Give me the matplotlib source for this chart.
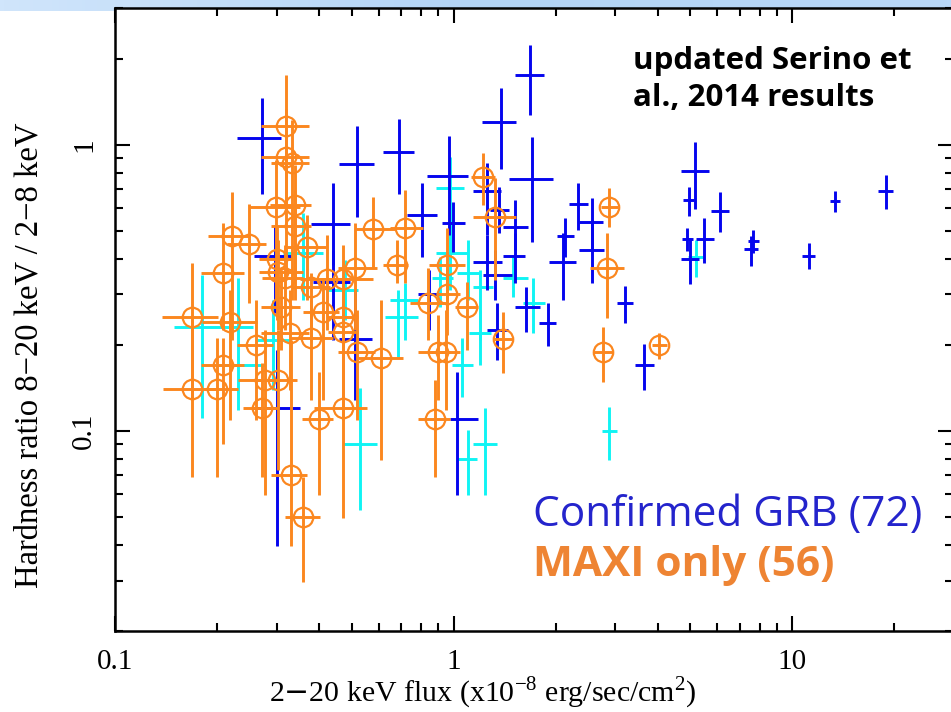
import numpy as np
import matplotlib
matplotlib.use("Agg")
import matplotlib.pyplot as plt
from matplotlib.ticker import FixedLocator, FixedFormatter, LogLocator, NullFormatter
from matplotlib.colors import LinearSegmentedColormap

# ---- Confirmed GRBs (blue) ----
grb_flux = [0.271, 0.517, 0.688, 0.439, 0.300, 0.296, 0.510, 0.439, 1.377, 1.677,
            1.700, 0.967, 0.804, 0.993, 1.252, 1.358, 1.514, 1.514, 1.252, 1.322,
            1.632, 1.340, 1.021, 2.325, 2.556, 2.556, 2.126, 2.098, 1.894, 3.20,
            3.64, 5.16, 4.95, 6.11, 5.48, 4.88, 4.98, 7.66, 7.56, 11.2,
            13.4, 18.9, 0.844]
grb_flux_lo = [0.229, 0.460, 0.617, 0.378, 0.258, 0.258, 0.457, 0.385, 1.210, 1.514,
               1.454, 0.832, 0.727, 0.922, 1.138, 1.278, 1.396, 1.396, 1.138, 1.218,
               1.514, 1.252, 0.973, 2.185, 2.341, 2.341, 2.014, 1.907, 1.782, 3.03,
               3.42, 4.69, 4.75, 5.75, 5.19, 4.72, 4.69, 7.39, 7.18, 10.7,
               12.9, 17.9, 0.783]
grb_flux_hi = [0.310, 0.580, 0.762, 0.493, 0.351, 0.334, 0.573, 0.493, 1.525, 1.844,
               1.959, 1.100, 0.891, 1.078, 1.377, 1.454, 1.654, 1.621, 1.386, 1.484,
               1.794, 1.444, 1.178, 2.488, 2.753, 2.772, 2.262, 2.293, 2.000, 3.38,
               3.89, 5.67, 5.12, 6.49, 5.87, 5.09, 5.30, 7.99, 7.93, 11.7,
               13.8, 19.8, 0.909]
grb_hr = [1.06, 0.858, 0.945, 0.530, 0.120, 0.409, 0.210, 0.332, 1.20, 1.76,
          0.760, 0.779, 0.569, 0.534, 0.690, 0.593, 0.517, 0.409, 0.390, 0.351,
          0.272, 0.2255, 0.110, 0.622, 0.538, 0.430, 0.480, 0.390, 0.238, 0.280,
          0.170, 0.811, 0.642, 0.588, 0.469, 0.469, 0.400, 0.462, 0.433, 0.409,
          0.637, 0.690, 0.301]
grb_hr_lo = [0.674, 0.560, 0.674, 0.380, 0.0396, 0.259, 0.128, 0.208, 0.824, 1.27,
             0.458, 0.484, 0.406, 0.423, 0.484, 0.493, 0.430, 0.329, 0.311, 0.287,
             0.222, 0.177, 0.0597, 0.505, 0.430, 0.329, 0.406, 0.287, 0.198, 0.238,
             0.139, 0.597, 0.564, 0.497, 0.387, 0.426, 0.327, 0.419, 0.377, 0.368,
             0.583, 0.597, 0.2255]
grb_hr_hi = [1.46, 1.165, 1.23, 0.736, 0.192, 0.526, 0.311, 0.430, 1.58, 2.24,
             1.066, 1.075, 0.736, 0.632, 0.865, 0.713, 0.642, 0.493, 0.484, 0.430,
             0.319, 0.280, 0.161, 0.736, 0.653, 0.547, 0.555, 0.493, 0.280, 0.321,
             0.202, 1.024, 0.713, 0.685, 0.555, 0.513, 0.473, 0.505, 0.480, 0.455,
             0.690, 0.785, 0.365]

# ---- Other confirmed events (cyan) ----
oth_flux = [0.360, 0.477, 0.717, 0.683, 0.181, 0.230, 0.292, 0.973, 0.973, 1.100,
            1.711, 0.909, 1.194, 1.494, 1.194, 0.528, 1.056, 1.100, 1.235, 5.19, 2.868]
oth_flux_lo = [0.313, 0.425, 0.647, 0.626, 0.149, 0.197, 0.262, 0.885, 0.885, 1.021,
               1.599, 0.861, 1.138, 1.396, 1.107, 0.470, 0.986, 1.028, 1.138, 4.92, 2.734]
oth_flux_hi = [0.410, 0.520, 0.783, 0.783, 0.255, 0.277, 0.328, 1.070, 1.100, 1.194,
               1.856, 0.993, 1.304, 1.654, 1.286, 0.592, 1.138, 1.170, 1.340, 5.44, 3.03]
oth_hr = [0.419, 0.311, 0.287, 0.250, 0.231, 0.170, 0.208, 0.707, 0.419, 0.357,
          0.280, 0.343, 0.319, 0.343, 0.220, 0.090, 0.170, 0.0798, 0.090, 0.406, 0.100]
oth_hr_lo = [0.287, 0.244, 0.208, 0.182, 0.111, 0.118, 0.139, 0.396, 0.311, 0.287,
             0.220, 0.272, 0.208, 0.295, 0.170, 0.053, 0.131, 0.0597, 0.0597, 0.345, 0.079]
oth_hr_hi = [0.579, 0.396, 0.329, 0.311, 0.351, 0.343, 0.287, 0.908, 0.547, 0.466,
             0.343, 0.406, 0.365, 0.406, 0.265, 0.141, 0.212, 0.101, 0.120, 0.466, 0.121]

# ---- MAXI-only events (orange) ----
maxi_flux = [0.319, 0.319, 0.332, 0.298, 0.339, 0.339, 0.221, 0.248, 0.370, 0.576,
             0.717, 0.209, 0.300, 0.302, 0.317, 0.679, 0.510, 0.422, 0.470, 0.380,
             0.169, 0.219, 0.310, 0.410, 0.470, 0.260, 0.328, 0.380, 0.470, 0.209,
             0.169, 0.200, 0.277, 0.302, 0.271, 0.517, 0.609, 0.399, 0.470, 0.330,
             0.358, 1.218, 1.322, 0.953, 0.953, 0.838, 1.092, 1.396, 0.897, 0.947,
             0.879, 2.868, 2.829, 2.753, 4.03]
maxi_flux_lo = [0.269, 0.269, 0.288, 0.250, 0.286, 0.288, 0.188, 0.2135, 0.321, 0.510,
                0.647, 0.179, 0.267, 0.267, 0.271, 0.617, 0.454, 0.351, 0.402, 0.334,
                0.138, 0.181, 0.269, 0.358, 0.422, 0.229, 0.269, 0.328, 0.425, 0.179,
                0.139, 0.184, 0.230, 0.258, 0.238, 0.454, 0.520, 0.356, 0.388, 0.288,
                0.317, 1.123, 1.138, 0.844, 0.885, 0.741, 1.007, 1.304, 0.783, 0.850,
                0.783, 2.716, 2.521, 2.574, 3.84]
maxi_flux_hi = [0.373, 0.373, 0.373, 0.351, 0.380, 0.380, 0.250, 0.280, 0.419, 0.669,
                0.810, 0.241, 0.334, 0.358, 0.358, 0.731, 0.592, 0.493, 0.576, 0.430,
                0.201, 0.262, 0.351, 0.460, 0.520, 0.292, 0.375, 0.439, 0.520, 0.241,
                0.201, 0.230, 0.306, 0.344, 0.302, 0.584, 0.707, 0.439, 0.553, 0.370,
                0.404, 1.322, 1.525, 1.078, 1.042, 0.953, 1.178, 1.494, 0.973, 1.042,
                0.973, 3.05, 3.18, 2.948, 4.26]
maxi_hr = [1.165, 0.908, 0.865, 0.607, 0.617, 0.521, 0.480, 0.451, 0.440, 0.509,
           0.513, 0.357, 0.400, 0.360, 0.343, 0.380, 0.371, 0.340, 0.340, 0.319,
           0.250, 0.240, 0.272, 0.261, 0.250, 0.200, 0.220, 0.212, 0.222, 0.170,
           0.140, 0.140, 0.151, 0.151, 0.120, 0.189, 0.180, 0.110, 0.120, 0.070,
           0.050, 0.773, 0.560, 0.380, 0.301, 0.280, 0.272, 0.210, 0.189, 0.189,
           0.110, 0.607, 0.371, 0.189, 0.200]
maxi_hr_lo = [0.593, 0.337, 0.287, 0.287, 0.337, 0.287, 0.208, 0.280, 0.287, 0.371,
              0.329, 0.2255, 0.244, 0.2255, 0.2255, 0.329, 0.2255, 0.2255, 0.2255, 0.208,
              0.128, 0.109, 0.192, 0.128, 0.139, 0.109, 0.139, 0.128, 0.109, 0.0897,
              0.0689, 0.0689, 0.0597, 0.073, 0.0689, 0.109, 0.079, 0.0597, 0.0496, 0.0396,
              0.0297, 0.617, 0.337, 0.265, 0.217, 0.208, 0.192, 0.160, 0.128, 0.118,
              0.0689, 0.517, 0.248, 0.148, 0.179]
maxi_hr_hi = [1.76, 1.33, 1.22, 0.886, 0.851, 0.697, 0.685, 0.622, 0.569, 0.658,
              0.697, 0.534, 0.526, 0.466, 0.447, 0.466, 0.534, 0.484, 0.447, 0.357,
              0.387, 0.311, 0.365, 0.337, 0.324, 0.287, 0.311, 0.287, 0.287, 0.212,
              0.244, 0.212, 0.2255, 0.2255, 0.173, 0.265, 0.287, 0.161, 0.287, 0.208,
              0.0689, 0.938, 0.767, 0.513, 0.371, 0.371, 0.332, 0.261, 0.254, 0.265,
              0.151, 0.707, 0.493, 0.231, 0.220]

x_ticks = [0.1, 1, 10]
x_tick_labels = ["0.1", "1", "10"]
y_ticks = [0.1, 1]
y_tick_labels = ["0.1", "1"]

BLUE = "#0505ee"
CYAN = "#10f4f4"
ORANGE = "#fb871f"

W, H = 951, 712
fig = plt.figure(figsize=(W / 100, H / 100), dpi=100)
fig.patch.set_facecolor("white")

# pale blue title band along the top edge
band = fig.add_axes([0, 1 - 11 / H, 1, 11 / H])
band_cmap = LinearSegmentedColormap.from_list("band", ["#d0e5fb", "#b3d4f6", "#b9d8f8"])
band.imshow(np.linspace(0, 1, 256)[None, :], aspect="auto", cmap=band_cmap,
            extent=[0, 1, 0, 1])
band.set_axis_off()

left, right, top, bottom = 115, 953, 8.3, 631
ax = fig.add_axes([left / W, 1 - bottom / H, (right - left) / W, (bottom - top) / H])
ax.set_xscale("log")
ax.set_yscale("log")
ax.set_xlim(0.1, 29.8)
ax.set_ylim(0.02, 3.0)


def draw(flux, flo, fhi, hr, hlo, hhi, color, marker=False, z=2):
    f = np.asarray(flux); h = np.asarray(hr)
    xerr = [f - np.asarray(flo), np.asarray(fhi) - f]
    yerr = [h - np.asarray(hlo), np.asarray(hhi) - h]
    if marker:
        ax.errorbar(f, h, xerr=xerr, yerr=yerr, fmt="o", mfc="none", mec=color,
                    mew=1.6, ms=14, ecolor=color, elinewidth=2.1, capsize=0,
                    zorder=z)
    else:
        ax.errorbar(f, h, xerr=xerr, yerr=yerr, fmt="none", ecolor=color,
                    elinewidth=2.1, capsize=0, zorder=z)


draw(oth_flux, oth_flux_lo, oth_flux_hi, oth_hr, oth_hr_lo, oth_hr_hi, CYAN, z=2)
draw(grb_flux, grb_flux_lo, grb_flux_hi, grb_hr, grb_hr_lo, grb_hr_hi, BLUE, z=3)
draw(maxi_flux, maxi_flux_lo, maxi_flux_hi, maxi_hr, maxi_hr_lo, maxi_hr_hi,
     ORANGE, marker=True, z=4)

serif = ["Liberation Serif", "DejaVu Serif"]
plt.rcParams["mathtext.fontset"] = "custom"
plt.rcParams["mathtext.rm"] = "Liberation Serif"

ax.xaxis.set_major_locator(FixedLocator(x_ticks))
ax.xaxis.set_major_formatter(FixedFormatter(x_tick_labels))
ax.xaxis.set_minor_locator(LogLocator(base=10, subs=np.arange(2, 10)))
ax.xaxis.set_minor_formatter(NullFormatter())
ax.yaxis.set_major_locator(FixedLocator(y_ticks))
ax.yaxis.set_major_formatter(FixedFormatter(y_tick_labels))
ax.yaxis.set_minor_locator(LogLocator(base=10, subs=np.arange(2, 10)))
ax.yaxis.set_minor_formatter(NullFormatter())

ax.tick_params(which="both", direction="in", top=True, right=True, color="black")
ax.tick_params(which="major", length=11, width=1.5)
ax.tick_params(which="minor", length=6, width=1.5)
ax.tick_params(axis="x", which="major", pad=13)
ax.tick_params(axis="y", which="major", pad=13)
for lab in ax.get_xticklabels():
    lab.set_fontfamily(serif)
    lab.set_fontsize(21)
for lab in ax.get_yticklabels():
    lab.set_fontfamily(serif)
    lab.set_fontsize(21)
    lab.set_rotation(90)
    lab.set_verticalalignment("center")
for sp in ax.spines.values():
    sp.set_linewidth(1.8)

ax.set_xlabel(r"2$-$20 keV flux (x10$^{\mathregular{-8}}$ erg/sec/cm$^{\mathregular{2}}$)",
              family=serif, fontsize=21.5)
ax.xaxis.set_label_coords((483 - left) / (right - left), -(693 - bottom) / (bottom - top))
ax.xaxis.label.set_verticalalignment("center")
ax.set_ylabel("Hardness ratio 8\u221220 keV / 2\u22128 keV", family=serif, fontsize=23.5)
ax.yaxis.set_label_coords(-(left - 29) / (right - left), (bottom - 355) / (bottom - top))
ax.yaxis.label.set_verticalalignment("center")

sans = ["Open Sans", "DejaVu Sans"]
fig.text(633 / W, 1 - 46 / H, "updated Serino et\nal., 2014 results", family=sans,
         fontweight="bold", fontsize=22.5, color="black", ha="left", va="top",
         linespacing=1.32)
fig.text(533 / W, 1 - 515 / H, "Confirmed GRB (72)", family=sans, fontsize=30.5,
         color="#2424cc", ha="left", va="center")
fig.text(533 / W, 1 - 566 / H, "MAXI only (56)", family=sans, fontsize=30.5,
         fontweight="bold", color="#ee8433", ha="left", va="center")

fig.savefig("out.png", dpi=100)
